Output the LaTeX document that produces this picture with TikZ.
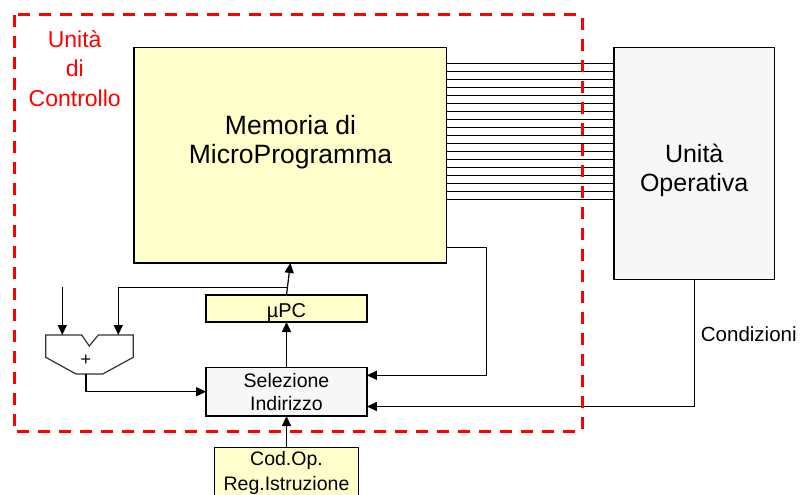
\documentclass[tikz,border=0pt]{standalone}
\usepackage{fontspec}
\setmainfont{Liberation Sans}
\usetikzlibrary{arrows.meta}
\newcommand\txtsize[1]{\fontsize{#1}{#1}\selectfont}
\definecolor{memyellow}{HTML}{FFFFCC}
\definecolor{boxgray}{HTML}{F7F7F7}
\begin{document}
\begin{tikzpicture}[x=1pt,y=-1pt,
  block/.style={draw=black, line width=1.4pt, inner sep=0pt, outer sep=0pt},
  wire/.style={draw=black, line width=1.2pt},
  arr/.style={wire, -{Triangle[length=10pt,width=9pt]}},
  lbl/.style={anchor=base, inner sep=0pt, text=black},
  redlbl/.style={anchor=base, inner sep=0pt, text=red}
]
\clip (0,0) rectangle (803,495);
\fill[white] (0,0) rectangle (803,495);

% control unit label
\node[redlbl, font=\txtsize{23}] (cu1) at (74.7,48) {Unità};
\node[redlbl, font=\txtsize{23}] (cu2) at (74.7,77) {di};
\node[redlbl, font=\txtsize{23}] (cu3) at (74.7,106) {Controllo};

% main blocks
\node[block, fill=memyellow, minimum width=312.7pt, minimum height=215.7pt] (mem) at (290.4,155.1) {};
\node[lbl, font=\txtsize{26.5}] (memT1) at (290.5,134.3) {Memoria di};
\node[lbl, font=\txtsize{26.5}] (memT2) at (290.5,163.3) {MicroProgramma};

\node[block, fill=boxgray, minimum width=160.3pt, minimum height=232pt] (op) at (694.2,163.3) {};
\node[lbl, font=\txtsize{25}] (opT1) at (694.2,162) {Unità};
\node[lbl, font=\txtsize{25}] (opT2) at (694.2,191) {Operativa};

\node[block, fill=memyellow, minimum width=160.7pt, minimum height=27pt] (upc) at (286.5,308.5) {};
\node[lbl, font=\txtsize{20}] (upcT) at (286.5,317.3) {µPC};

\node[block, fill=boxgray, minimum width=160.7pt, minimum height=48.7pt] (sel) at (286.5,391.7) {};
\node[lbl, font=\txtsize{19.5}] (selT1) at (286.5,387.7) {Selezione};
\node[lbl, font=\txtsize{19.5}] (selT2) at (286.5,410) {Indirizzo};

\node[block, fill=memyellow, minimum width=144pt, minimum height=56pt] (reg) at (286.5,475.7) {};
\node[lbl, font=\txtsize{19.5}] (regT1) at (286.5,465.7) {Cod.Op.};
\node[lbl, font=\txtsize{19.5}] (regT2) at (286.5,490) {Reg.Istruzione};

% adder
\draw[line width=1.2pt, draw=black!80, fill=white]
  (45.7,335) -- (81.7,335) -- (89.3,346) -- (98.3,335) -- (133.3,335)
  -- (133.3,357.3) -- (102.7,374) -- (76,374) -- (45.7,357.3) -- cycle;
\node[inner sep=0pt, font=\txtsize{18}] (plus) at (86,360) {+};
\coordinate (addA) at (62.3,335);
\coordinate (addB) at (118.3,335);
\coordinate (addOut) at (86,374);
\coordinate (inA) at (62.3,286.7);
\coordinate (br) at (286.5,287.3);

% microinstruction bus to the operative unit
\foreach \k in {0,...,17}{
  \draw[draw=black, line width=1pt] (mem.east |- 0,{63.3+8*\k}) -- (op.west |- 0,{63.3+8*\k});
}

% connectors
\coordinate (fbR) at (486.7,247.3);
\coordinate (fbD) at (486.7,375.3);
\draw[arr] (mem.east |- fbR) -- (fbR) -- (fbD) -- (sel.east |- fbD);

\coordinate (cdD) at (op.south |- 0,406.5);
\draw[arr] (op.south) -- (cdD) -- (sel.east |- cdD);
\node[anchor=base west, inner sep=0pt, font=\txtsize{20.5}] (cond) at (700.7,341.7) {Condizioni};

\draw[arr] (sel.north) -- (upc.south);
\draw[arr] (upc.north) -- (mem.south);
\draw[arr] (br) -| (addB);
\draw[arr] (inA) -- (addA);
\draw[arr] (addOut) |- (sel.west);
\draw[arr] (reg.north) -- (sel.south);

% control unit boundary, on top of the wires it crosses
\draw[red, line width=3pt, dash pattern=on 12pt off 9pt] (14,15) rectangle (582,431.7);
\end{tikzpicture}
\end{document}
